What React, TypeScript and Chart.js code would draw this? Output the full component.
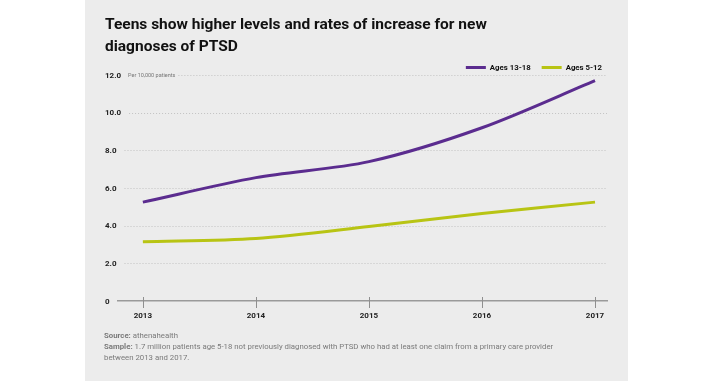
import { useEffect, useRef } from 'react';
import { Chart, registerables } from 'chart.js';

Chart.register(...registerables);

const years = [2013, 2014, 2015, 2016, 2017];
const teens = [5.25, 6.55, 7.4, 9.2, 11.7];
const kids = [3.15, 3.32, 3.95, 4.65, 5.25];
const seriesNames = ['Ages 13-18', 'Ages 5-12'];
const seriesColors = ['#5b2c8f', '#b8c414'];
const yTicks = [0, 2, 4, 6, 8, 10, 12];
const yTickLabels = ['0', '2.0', '4.0', '6.0', '8.0', '10.0', '12.0'];
const titleLines = ['Teens show higher levels and rates of increase for new', 'diagnoses of PTSD'];
const unitNote = 'Per 10,000 patients';
const sourceLines: [string, string][] = [
  ['Source:', ' athenahealth'],
  ['Sample:', ' 1.7 million patients age 5-18 not previously diagnosed with PTSD who had at least one claim from a primary care provider'],
  ['', 'between 2013 and 2017.'],
];

const FONT = 'Roboto, "Liberation Sans", sans-serif';

const decor = {
  id: 'decor',
  beforeDatasetsDraw(chart: any) {
    const { ctx, chartArea, scales } = chart;
    const ys = scales.y;
    ctx.save();
    ctx.lineWidth = 1;
    ctx.strokeStyle = '#c2c2c2';
    ctx.setLineDash([1, 2]);
    yTicks.forEach((v, i) => {
      if (v === 0) return;
      const py = Math.round(ys.getPixelForValue(v)) + 0.5;
      ctx.font = `bold 8px ${FONT}`;
      const lw = ctx.measureText(yTickLabels[i]).width;
      let start = Math.max(chartArea.left + 1, ys.left + lw + 8);
      if (v === 12) {
        ctx.font = `5.5px ${FONT}`;
        start = ys.left + lw + 7 + ctx.measureText(unitNote).width + 3;
      }
      ctx.beginPath();
      ctx.moveTo(start, py);
      ctx.lineTo(chartArea.right, py);
      ctx.stroke();
    });
    ctx.restore();
  },
  afterDraw(chart: any) {
    const { ctx, chartArea, scales } = chart;
    const xs = scales.x;
    const ys = scales.y;
    ctx.save();
    // tick marks
    ctx.strokeStyle = '#8f8f8f';
    ctx.lineWidth = 1;
    const y0 = ys.getPixelForValue(0);
    years.forEach((yr) => {
      const px = Math.round(xs.getPixelForValue(yr)) + 0.5;
      ctx.beginPath();
      ctx.moveTo(px, y0 - 4);
      ctx.lineTo(px, y0 + 7);
      ctx.stroke();
    });
    // y tick labels
    ctx.font = `bold 8px ${FONT}`;
    ctx.fillStyle = '#222';
    ctx.textBaseline = 'middle';
    ctx.textAlign = 'left';
    yTicks.forEach((v, i) => {
      ctx.fillText(yTickLabels[i], ys.left, ys.getPixelForValue(v) + 0.5);
    });
    // unit note
    const lw = ctx.measureText(yTickLabels[yTickLabels.length - 1]).width;
    ctx.font = `5.5px ${FONT}`;
    ctx.fillStyle = '#777';
    ctx.fillText(unitNote, ys.left + lw + 7, ys.getPixelForValue(12) + 0.5);
    // title
    ctx.fillStyle = '#111';
    ctx.textBaseline = 'alphabetic';
    ctx.font = `bold 15.5px ${FONT}`;
    titleLines.forEach((t, i) => ctx.fillText(t, 105, 29 + i * 21.5));
    // legend
    ctx.font = `bold 7.8px ${FONT}`;
    const lineLen = 20, gap = 4, itemGap = 11;
    const widths = seriesNames.map((n) => ctx.measureText(n).width);
    const total = widths.reduce((a, w) => a + lineLen + gap + w, 0) + itemGap * (seriesNames.length - 1);
    let lx = chartArea.right - 5 - total;
    const ly = 67.5;
    seriesNames.forEach((n, i) => {
      ctx.strokeStyle = seriesColors[i];
      ctx.lineWidth = 3;
      ctx.beginPath();
      ctx.moveTo(lx, ly);
      ctx.lineTo(lx + lineLen, ly);
      ctx.stroke();
      ctx.fillStyle = '#111';
      ctx.textBaseline = 'middle';
      ctx.fillText(n, lx + lineLen + gap, ly + 0.5);
      lx += lineLen + gap + widths[i] + itemGap;
    });
    // source
    ctx.textBaseline = 'alphabetic';
    ctx.fillStyle = '#7a7a7a';
    sourceLines.forEach(([b, r], i) => {
      const by = 337.5 + i * 11.3;
      let sx = 104;
      if (b) {
        ctx.font = `bold 7.8px ${FONT}`;
        ctx.fillText(b, sx, by);
        sx += ctx.measureText(b).width;
      }
      ctx.font = `7.8px ${FONT}`;
      ctx.fillText(r, sx, by);
    });
    ctx.restore();
  },
};

export default function App() {
  const ref = useRef<HTMLCanvasElement>(null);
  useEffect(() => {
    if (!ref.current) return;
    const chart = new Chart(ref.current, {
      type: 'line',
      data: {
        datasets: [
          {
            label: seriesNames[0],
            data: years.map((x, i) => ({ x, y: teens[i] })),
            borderColor: seriesColors[0],
            backgroundColor: seriesColors[0],
            borderWidth: 3,
            pointRadius: 0,
            tension: 0.3,
          },
          {
            label: seriesNames[1],
            data: years.map((x, i) => ({ x, y: kids[i] })),
            borderColor: seriesColors[1],
            backgroundColor: seriesColors[1],
            borderWidth: 3,
            pointRadius: 0,
            tension: 0.3,
          },
        ],
      },
      options: {
        animation: false,
        responsive: false,
        layout: { padding: { left: 105, right: 105, top: 75, bottom: 60 } },
        plugins: { legend: { display: false }, tooltip: { enabled: false }, title: { display: false } },
        scales: {
          x: {
            type: 'linear',
            min: 2012.78,
            max: 2017.106,
            afterBuildTicks: (s: any) => {
              s.ticks = years.map((v) => ({ value: v }));
            },
            afterFit: (s: any) => {
              s.height = 20;
            },
            grid: { display: false, drawTicks: false },
            border: { display: true, color: '#9a9a9a', width: 1.5 },
            ticks: {
              padding: 10,
              autoSkip: false,
              maxRotation: 0,
              color: '#222',
              font: { family: FONT, size: 8, weight: 'bold' },
              callback: (v: any) => String(v),
            },
          },
          y: {
            min: 0,
            max: 12,
            afterBuildTicks: (s: any) => {
              s.ticks = yTicks.map((v) => ({ value: v }));
            },
            afterFit: (s: any) => {
              s.width = 13;
            },
            grid: { display: false, drawTicks: false },
            border: { display: false },
            ticks: { display: false },
          },
        },
      },
      plugins: [decor],
    } as any);
    return () => chart.destroy();
  }, []);
  return (
    <div style={{ position: 'fixed', left: 0, top: 0, width: 712, height: 381, background: '#fff' }}>
      <div style={{ position: 'absolute', left: 85, top: 0, width: 543, height: 381, background: '#ececec' }} />
      <canvas ref={ref} width={712} height={381} style={{ position: 'absolute', left: 0, top: 0, width: 712, height: 381 }} />
    </div>
  );
}
